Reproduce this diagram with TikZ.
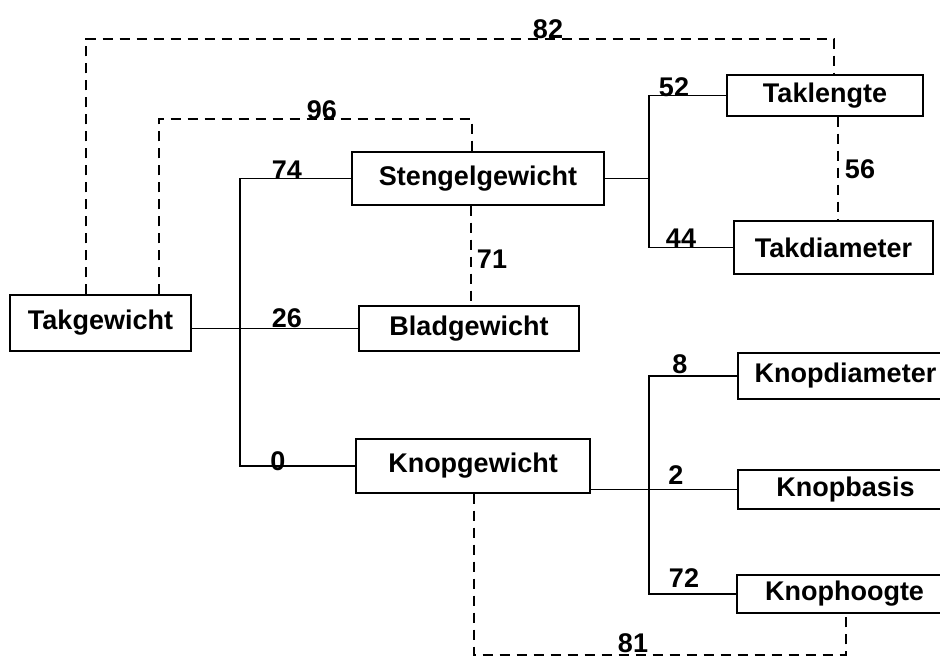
\documentclass[tikz,border=0pt]{standalone}
\usepackage{fontspec}
\setmainfont{Liberation Sans}
\usepackage{tikz}
\usetikzlibrary{calc}
\newcommand{\lblfont}{\fontsize{27}{31}\selectfont\bfseries}
\tikzset{
  vbox/.style={draw, line width=1.4pt, inner sep=0pt, font=\lblfont},
  conn/.style={line width=1.1pt},
  dconn/.style={line width=1.5pt, dash pattern=on 10pt off 7pt},
  wlab/.style={inner sep=0pt, anchor=base, font=\lblfont}
}

\begin{document}
\begin{tikzpicture}[x=1pt, y=-1pt]
  \useasboundingbox (0,0) rectangle (940,657);
  \clip (0,0) rectangle (940,657);
  \node[vbox, minimum width=181pt, minimum height=56pt] (tak)  at (100.5,323)  {Takgewicht};
  \node[vbox, minimum width=252pt, minimum height=53pt] (sten) at (478,178.5)  {Stengelgewicht};
  \node[vbox, minimum width=220pt, minimum height=45pt] (blad) at (469,328.5)  {Bladgewicht};
  \node[vbox, minimum width=234pt, minimum height=54pt] (kg)   at (473,466)    {Knopgewicht};
  \node[vbox, minimum width=196pt, minimum height=41pt] (tl)   at (825,95.5)   {Taklengte};
  \node[vbox, minimum width=199pt, minimum height=53pt] (td)   at (833.5,247.5) {Takdiameter};
  \node[vbox, minimum width=215pt, minimum height=46pt] (kd)   at (845.5,376)  {Knopdiameter};
  \node[vbox, minimum width=215pt, minimum height=39pt] (kb)   at (845.5,489.5) {Knopbasis};
  \node[vbox, minimum width=215pt, minimum height=38pt] (kh)   at (844.5,594)  {Knophoogte};
  \coordinate (jl)  at (240,0);
  \coordinate (jr1) at (649,0);
  \coordinate (jr2) at (649,0);
  \coordinate (c82) at (548,39);
  \coordinate (c96) at (322,119);
  \coordinate (c81) at (633,655);
  % solid links
  \draw[conn] (tak.east |- blad.west) -- (blad.west);
  \draw[conn] (sten.west) -| (jl |- kg.west) -- (kg.west);
  \draw[conn] (sten.east) -- (jr1 |- sten.east);
  \draw[conn] (tl.west) -| (jr1 |- td.west) -- (td.west);
  \draw[conn] (kg.east |- kb.west) -- (kb.west);
  \draw[conn] (kd.west) -| (jr2 |- kh.west) -- (kh.west);
  % dashed links
  \draw[dconn] ([xshift=-14.5pt]tak.north) |- (c82) -| ([xshift=9pt]tl.north);
  \draw[dconn] ([xshift=58.5pt]tak.north) |- (c96) -| ([xshift=-6pt]sten.north);
  \draw[dconn] ([xshift=-7pt]sten.south) -- ([xshift=-7pt]sten.south |- blad.north);
  \draw[dconn] ([xshift=13pt]tl.south) -- ([xshift=13pt]tl.south |- td.north);
  \draw[dconn] ([xshift=1pt]kg.south) |- (c81) -| ([xshift=1.5pt]kh.south);
  % numbers
  \node[wlab] (n82) at (548,38)  {82};
  \node[wlab] (n96) at (322,119) {96};
  \node[wlab] (n74) at (287,179) {74};
  \node[wlab] (n26) at (287,327) {26};
  \node[wlab] (n0)  at (278,470) {0};
  \node[wlab] (n71) at (492,268) {71};
  \node[wlab] (n52) at (674,96)  {52};
  \node[wlab] (n44) at (681,247) {44};
  \node[wlab] (n56) at (860,178) {56};
  \node[wlab] (n8)  at (680,373) {8};
  \node[wlab] (n2)  at (676,484) {2};
  \node[wlab] (n72) at (684,587) {72};
  \node[wlab] (n81) at (633,652) {81};
\end{tikzpicture}
\end{document}
